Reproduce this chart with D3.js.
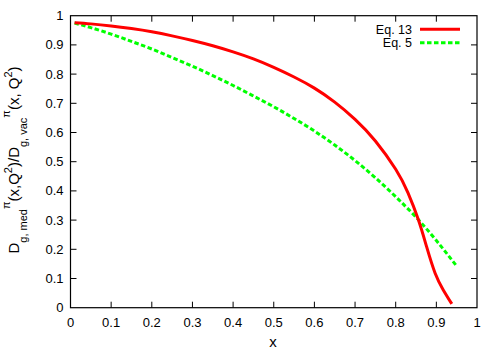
<!DOCTYPE html>
<html><head><meta charset="utf-8">
<script src="https://cdn.jsdelivr.net/npm/d3@7"></script>
<style>body{margin:0;background:#fff}svg{display:block}text{font-family:"Liberation Sans",Arial,Helvetica,sans-serif}</style>
</head><body><svg id="c" width="498" height="350"></svg>
<script>
const xTicks = [0,0.1,0.2,0.3,0.4,0.5,0.6,0.7,0.8,0.9,1];
const yTicks = [0,0.1,0.2,0.3,0.4,0.5,0.6,0.7,0.8,0.9,1];
const eq13X = [0.01,0.05,0.1,0.15,0.2,0.25,0.3,0.35,0.4,0.45,0.5,0.55,0.6,0.65,0.7,0.75,0.8,0.83,0.856,0.876,0.897,0.917,0.938];
const eq13Y = [0.976,0.972,0.965,0.956,0.945,0.931,0.915,0.897,0.876,0.852,0.823,0.790,0.752,0.704,0.645,0.571,0.474,0.394,0.300,0.209,0.118,0.061,0.013];
const eq5X = [0.01,0.05,0.1,0.15,0.2,0.25,0.3,0.35,0.4,0.45,0.5,0.55,0.6,0.65,0.7,0.75,0.8,0.85,0.9,0.948];
const eq5Y = [0.975,0.959,0.937,0.912,0.886,0.857,0.827,0.795,0.761,0.725,0.688,0.648,0.605,0.557,0.504,0.445,0.380,0.310,0.230,0.146];
const seriesNames = ["Eq. 13","Eq. 5"];

const svg = d3.select("#c");
const L=70.5,R=477,T=15.7,B=307.7;
const x = d3.scaleLinear().domain([0,1]).range([L,R]);
const y = d3.scaleLinear().domain([0,1]).range([B,T]);

const g = svg.append("g");
const tl=6;
xTicks.forEach(t=>{
  if(t>0&&t<1){
  g.append("line").attr("x1",x(t)).attr("x2",x(t)).attr("y1",B).attr("y2",B-tl).attr("stroke","#000");
  g.append("line").attr("x1",x(t)).attr("x2",x(t)).attr("y1",T).attr("y2",T+tl).attr("stroke","#000");}
  g.append("text").attr("x",x(t)).attr("y",B+19).attr("text-anchor","middle").attr("font-size",13).text(t);
});
yTicks.forEach(t=>{
  if(t>0&&t<1){
  g.append("line").attr("y1",y(t)).attr("y2",y(t)).attr("x1",L).attr("x2",L+tl).attr("stroke","#000");
  g.append("line").attr("y1",y(t)).attr("y2",y(t)).attr("x1",R).attr("x2",R-tl).attr("stroke","#000");}
  g.append("text").attr("x",L-7).attr("y",y(t)+4.5).attr("text-anchor","end").attr("font-size",13).text(t);
});
g.append("rect").attr("x",L).attr("y",T).attr("width",R-L).attr("height",B-T).attr("fill","none").attr("stroke","#000").attr("stroke-width",1.2);

const line = d3.line().x(d=>x(d[0])).y(d=>y(d[1])).curve(d3.curveNatural);
const d13 = eq13X.map((v,i)=>[v,eq13Y[i]]);
const d5 = eq5X.map((v,i)=>[v,eq5Y[i]]);
svg.append("path").attr("d",line(d5)).attr("fill","none").attr("stroke","#00ff00").attr("stroke-width",3).attr("stroke-dasharray","4.5,2.5");
svg.append("path").attr("d",line(d13)).attr("fill","none").attr("stroke","#ff0000").attr("stroke-width",3);

// legend
const leg=[{n:seriesNames[0],c:"#ff0000",da:null,y:29.3},{n:seriesNames[1],c:"#00ff00",da:"4.5,2.5",y:42.7}];
leg.forEach(l=>{
  svg.append("text").attr("x",412).attr("y",l.y+4.3).attr("text-anchor","end").attr("font-size",12.5).text(l.n);
  const ln=svg.append("line").attr("x1",420).attr("x2",460).attr("y1",l.y).attr("y2",l.y).attr("stroke",l.c).attr("stroke-width",3);
  if(l.da) ln.attr("stroke-dasharray",l.da);
});

// x label
svg.append("text").attr("x",273).attr("y",347).attr("text-anchor","middle").attr("font-size",15).text("x");

// y label
const yl = svg.append("text").attr("transform","translate(19,160) rotate(-90)").attr("text-anchor","middle").attr("font-size",15);
const parts=[["D",0,15],["g, med",8,11],["π",-17,11],["(x,Q",9,15],["2",-7,11],[")/D",7,15],["g, vac",8,11],["π",-17,11],["(x, Q",9,15],["2",-7,11],[")",7,15]];
parts.forEach(p=>yl.append("tspan").attr("dy",p[1]).attr("font-size",p[2]).text(p[0]));
</script></body></html>
